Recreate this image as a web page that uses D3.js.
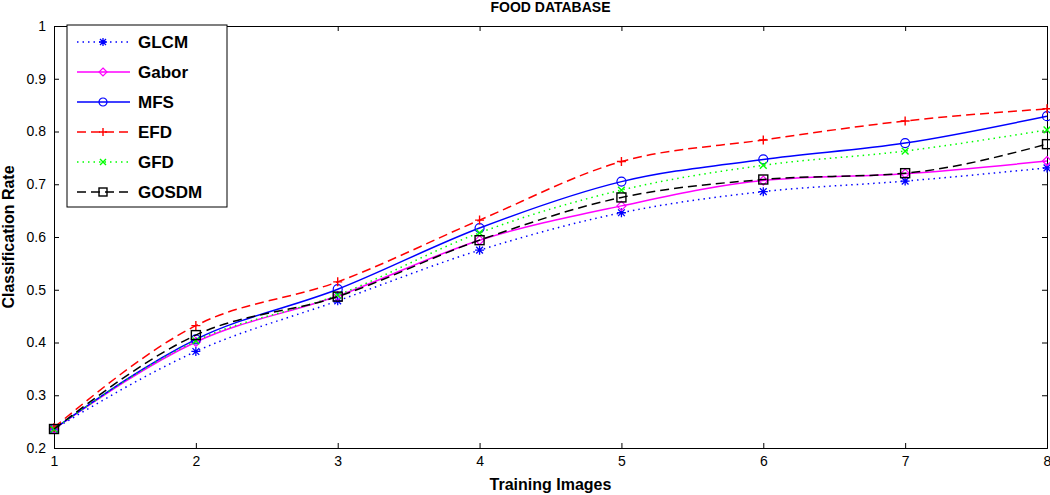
<!DOCTYPE html>
<html>
<head>
<meta charset="utf-8">
<script src="https://cdn.jsdelivr.net/npm/d3@7"></script>
<style>
  body { margin: 0; background: #fff; }
  svg { display: block; }
  .tick-label { font-family: "Liberation Sans Narrow", "Liberation Sans", Arial, sans-serif; font-size: 14px; fill: #000; }
  .axis-title { font-family: "Liberation Sans", Arial, sans-serif; font-weight: bold; font-size: 16px; fill: #000; }
  .legend-text { font-family: "Liberation Sans", Arial, sans-serif; font-weight: bold; font-size: 17px; fill: #000; }
</style>
</head>
<body>
<svg id="chart" width="1050" height="495"></svg>
<script>
//////////////////////// Data ////////////////////////
var trainingImages = [1, 2, 3, 4, 5, 6, 7, 8];
var yTicks = [0.2, 0.3, 0.4, 0.5, 0.6, 0.7, 0.8, 0.9, 1];

var glcm  = [0.236, 0.383, 0.479, 0.575, 0.646, 0.686, 0.706, 0.731];
var gabor = [0.236, 0.401, 0.488, 0.594, 0.659, 0.707, 0.720, 0.744];
var mfs   = [0.236, 0.406, 0.501, 0.617, 0.705, 0.747, 0.778, 0.829];
var efd   = [0.239, 0.432, 0.515, 0.632, 0.743, 0.784, 0.820, 0.843];
var gfd   = [0.236, 0.403, 0.490, 0.608, 0.689, 0.736, 0.763, 0.803];
var gosdm = [0.236, 0.414, 0.487, 0.594, 0.675, 0.709, 0.721, 0.776];

var seriesNames = ["GLCM", "Gabor", "MFS", "EFD", "GFD", "GOSDM"];
var seriesValues = [glcm, gabor, mfs, efd, gfd, gosdm];

//////////////////////// Styles ////////////////////////
var seriesStyle = {
	"GLCM":  { color: "#0000ff", dash: "1.5,4", marker: "star" },
	"Gabor": { color: "#ff00ff", dash: null, marker: "diamond" },
	"MFS":   { color: "#0000ff", dash: null, marker: "circle" },
	"EFD":   { color: "#ff0000", dash: "9,5", marker: "plus" },
	"GFD":   { color: "#00ff00", dash: "1.5,4", marker: "cross" },
	"GOSDM": { color: "#000000", dash: "9,5", marker: "square" }
};

var margin = { top: 26, right: 3, bottom: 47, left: 54 },
	width = 1050 - margin.left - margin.right,
	height = 495 - margin.top - margin.bottom;

var svg = d3.select("#chart");
var g = svg.append("g").attr("transform", "translate(" + margin.left + "," + margin.top + ")");

var xScale = d3.scaleLinear().domain([1, 8]).range([0, width]);
var yScale = d3.scaleLinear().domain([0.2, 1]).range([height, 0]);

//////////////////////// Axes ////////////////////////
var tickLen = 5;

//bottom axis
var xAxis = d3.axisBottom(xScale).tickValues(trainingImages).tickSize(-tickLen).tickPadding(8).tickFormat(d3.format("d"));
var xAxisG = g.append("g").attr("transform", "translate(0," + height + ")").call(xAxis);
//top axis (ticks only)
var xAxisTop = d3.axisTop(xScale).tickValues(trainingImages).tickSize(-tickLen).tickFormat("");
g.append("g").call(xAxisTop);

//left axis
var yAxis = d3.axisLeft(yScale).tickValues(yTicks).tickSize(-tickLen).tickPadding(8).tickFormat(function(d) { return d === 1 ? "1" : d3.format(".1f")(d); });
var yAxisG = g.append("g").call(yAxis);
//right axis (ticks only)
var yAxisRight = d3.axisRight(yScale).tickValues(yTicks).tickSize(-tickLen).tickFormat("");
g.append("g").attr("transform", "translate(" + width + ",0)").call(yAxisRight);

g.selectAll(".domain").attr("stroke", "#000").attr("stroke-width", 1);
g.selectAll(".tick line").attr("stroke", "#000").attr("stroke-width", 1);
g.selectAll(".tick text").attr("class", "tick-label").attr("font-family", null).attr("font-size", null);

//////////////////////// Lines ////////////////////////
var line = d3.line()
	.x(function(d, i) { return xScale(trainingImages[i]); })
	.y(function(d) { return yScale(d); })
	.curve(d3.curveMonotoneX);

function drawMarker(sel, type, color, size) {
	var r = size / 2;
	if (type === "circle") {
		sel.append("circle").attr("r", r).attr("fill", "none").attr("stroke", color).attr("stroke-width", 1.2);
	} else if (type === "square") {
		sel.append("rect").attr("x", -r).attr("y", -r).attr("width", size).attr("height", size)
			.attr("fill", "none").attr("stroke", color).attr("stroke-width", 1.4);
	} else if (type === "diamond") {
		sel.append("path").attr("d", "M0," + (-r) + "L" + r + ",0L0," + r + "L" + (-r) + ",0Z")
			.attr("fill", "none").attr("stroke", color).attr("stroke-width", 1.2);
	} else if (type === "plus") {
		sel.append("path").attr("d", "M" + (-r) + ",0L" + r + ",0M0," + (-r) + "L0," + r)
			.attr("stroke", color).attr("stroke-width", 1.4);
	} else if (type === "cross") {
		var c = r * 0.75;
		sel.append("path").attr("d", "M" + (-c) + "," + (-c) + "L" + c + "," + c + "M" + (-c) + "," + c + "L" + c + "," + (-c))
			.attr("stroke", color).attr("stroke-width", 1.4);
	} else if (type === "star") {
		var s = r * 0.75;
		sel.append("path").attr("d", "M" + (-r) + ",0L" + r + ",0M0," + (-r) + "L0," + r +
			"M" + (-s) + "," + (-s) + "L" + s + "," + s + "M" + (-s) + "," + s + "L" + s + "," + (-s))
			.attr("stroke", color).attr("stroke-width", 1.3);
	}
}

seriesNames.forEach(function(name, k) {
	var st = seriesStyle[name];
	var vals = seriesValues[k];
	var lineG = g.append("g").attr("class", "series-" + name);

	lineG.append("path")
		.datum(vals)
		.attr("d", line)
		.attr("fill", "none")
		.attr("stroke", st.color)
		.attr("stroke-width", 1.5)
		.attr("stroke-dasharray", st.dash);

	lineG.selectAll(".marker")
		.data(vals)
		.enter().append("g")
		.attr("class", "marker")
		.attr("transform", function(d, i) { return "translate(" + xScale(trainingImages[i]) + "," + yScale(d) + ")"; })
		.each(function() { drawMarker(d3.select(this), st.marker, st.color, 9); });
});

//////////////////////// Titles ////////////////////////
svg.append("text")
	.attr("class", "axis-title")
	.attr("x", margin.left + width / 2)
	.attr("y", 12)
	.style("font-size", "14px")
	.attr("text-anchor", "middle")
	.text("FOOD DATABASE");

svg.append("text")
	.attr("class", "axis-title")
	.attr("x", margin.left + width / 2)
	.attr("y", 490)
	.attr("text-anchor", "middle")
	.text("Training Images");

svg.append("text")
	.attr("class", "axis-title")
	.attr("transform", "translate(14," + (margin.top + height / 2) + ") rotate(-90)")
	.attr("text-anchor", "middle")
	.text("Classification Rate");

//////////////////////// Legend ////////////////////////
var legendWrapper = svg.append("g").attr("class", "legendWrapper").attr("transform", "translate(67,25)");
legendWrapper.append("rect")
	.attr("width", 160)
	.attr("height", 182)
	.attr("fill", "#fff")
	.attr("stroke", "#000")
	.attr("stroke-width", 1);

var rowHeight = 30;
var legendRow = legendWrapper.selectAll(".legend-row")
	.data(seriesNames)
	.enter().append("g")
	.attr("class", "legend-row")
	.attr("transform", function(d, i) { return "translate(0," + (17 + i * rowHeight) + ")"; });

legendRow.append("line")
	.attr("x1", 10)
	.attr("x2", 63)
	.attr("stroke", function(d) { return seriesStyle[d].color; })
	.attr("stroke-width", 1.5)
	.attr("stroke-dasharray", function(d) { return seriesStyle[d].dash; });

legendRow.append("g")
	.attr("transform", "translate(36,0)")
	.each(function(d) { drawMarker(d3.select(this), seriesStyle[d].marker, seriesStyle[d].color, 8); });

legendRow.append("text")
	.attr("class", "legend-text")
	.attr("x", 71)
	.attr("dy", "0.35em")
	.text(function(d) { return d; });
</script>
</body>
</html>
